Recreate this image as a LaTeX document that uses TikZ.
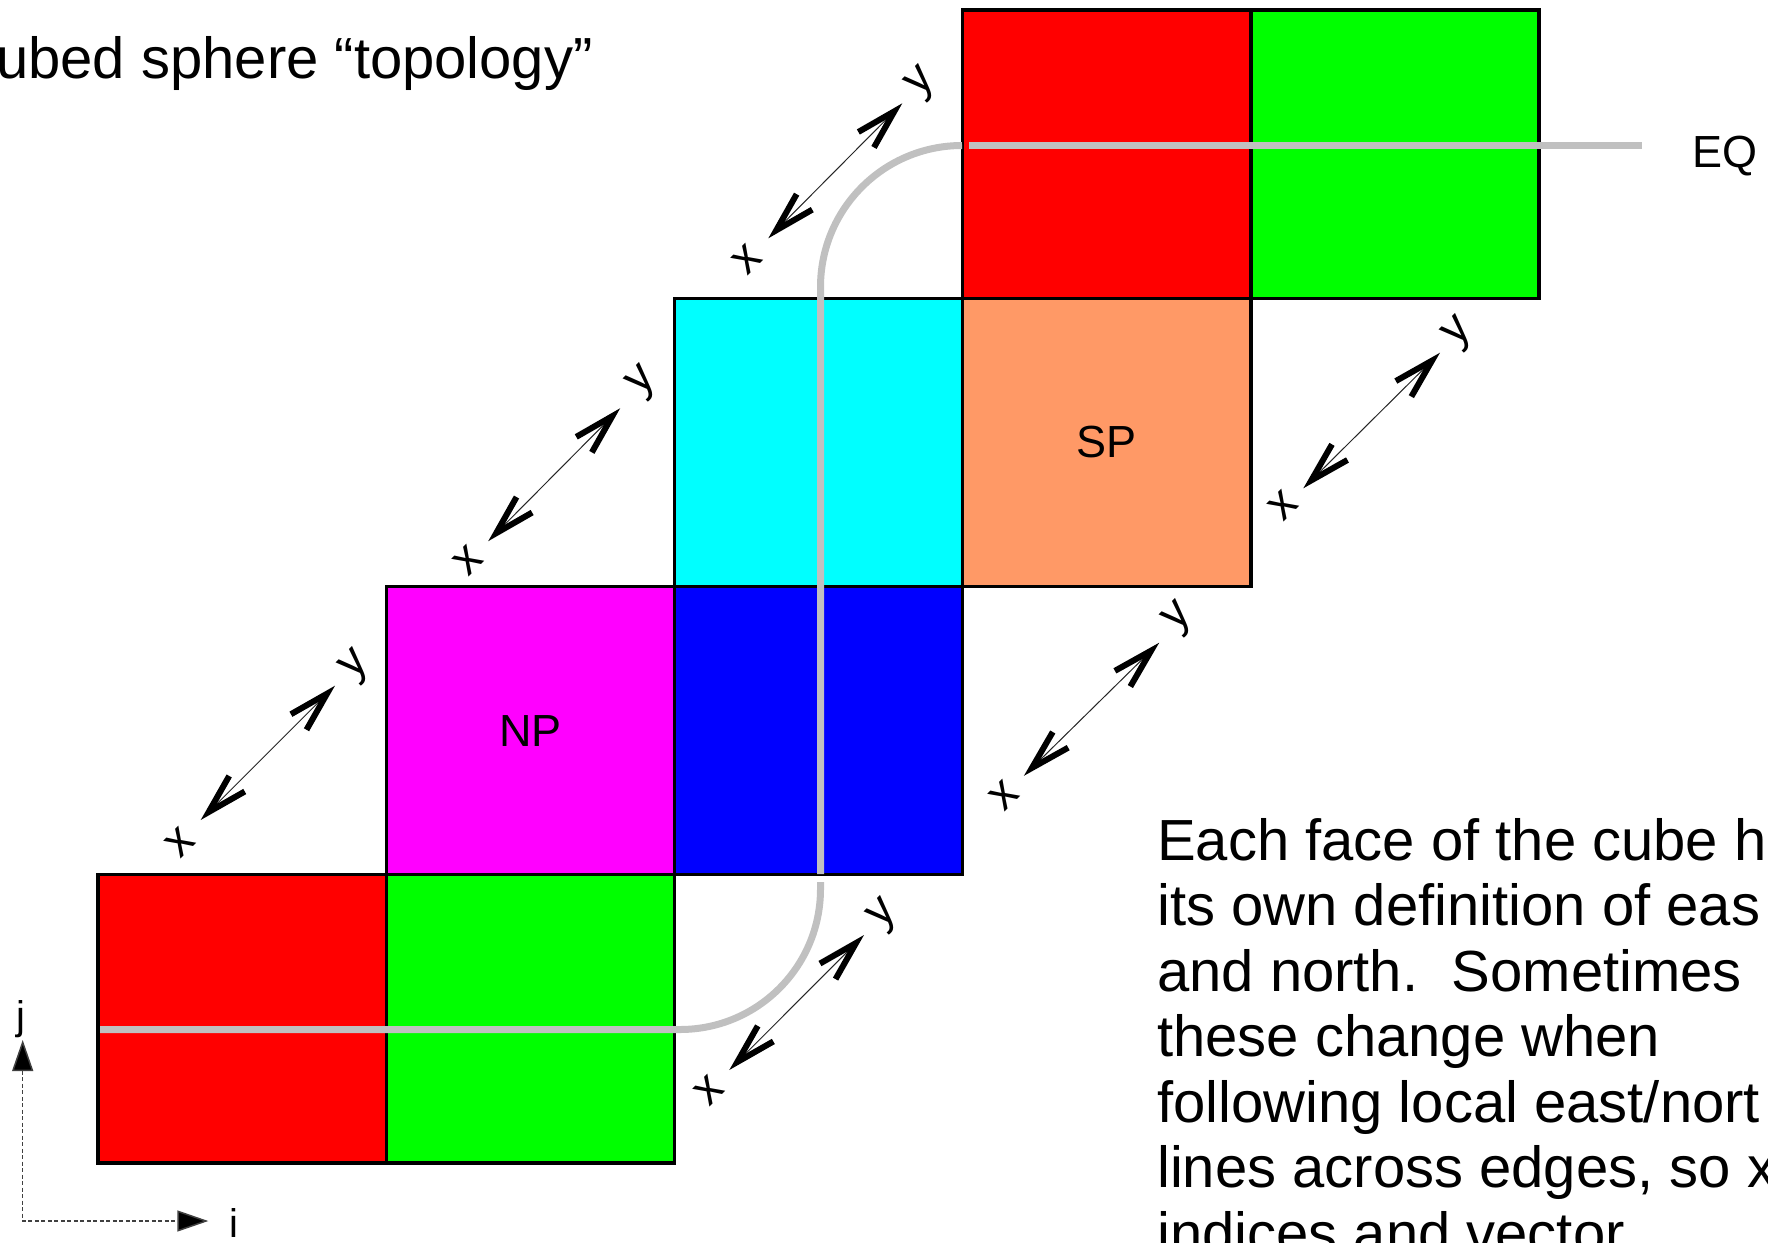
\documentclass[tikz,border=0pt]{standalone}
\usepackage{fontspec}
\setmainfont{Liberation Sans}
\usetikzlibrary{arrows.meta}
\definecolor{fred}{HTML}{FF0000}
\definecolor{fgreen}{HTML}{00FF00}
\definecolor{fcyan}{HTML}{00FFFF}
\definecolor{fmag}{HTML}{FF00FF}
\definecolor{fblue}{HTML}{0000FF}
\definecolor{fsp}{HTML}{FF9966}
\definecolor{eqgray}{HTML}{C0C0C0}
\begin{document}
\begin{tikzpicture}[x=1pt,y=-1pt,
  face/.style={draw=black, line width=3.5pt, minimum width=288.2pt, minimum height=288.2pt,
    inner sep=0pt, outer sep=0pt, font=\fontsize{45}{54}\selectfont},
  eqline/.style={draw=eqgray, line width=7pt},
  barb/.tip={Straight Barb[length=40pt,width=22pt,line width=6pt,color=black]},
  edgearrow/.style={draw=black!85, line width=1pt, {barb}-{barb}},
  axlab/.style={font=\fontsize{47}{56}\selectfont, rotate=45, inner sep=0pt},
  lab/.style={font=\fontsize{45}{54}\selectfont, inner sep=0pt},
  ijlab/.style={font=\fontsize{40}{48}\selectfont, inner sep=0pt, anchor=base},
  bodyline/.style={font=\fontsize{58}{65.5}\selectfont, inner sep=0pt, anchor=base west},
  axisline/.style={draw=black!75, line width=1.5pt, dash pattern=on 4pt off 2.5pt,
    {Triangle[length=31pt,width=21pt,fill=black]}-{Triangle[length=31pt,width=21pt,fill=black]}}
]
\useasboundingbox (0,0) rectangle (1768,1242);
\clip (0,0) rectangle (1768,1242);

% faces
\node[face, fill=fred]   (redA)   at (242.2,1018.8) {};
\node[face, fill=fgreen] (greenA) at (530.4,1018.8) {};
\node[face, fill=fmag]   (np)     at (530.4,730.6) {NP};
\node[face, fill=fblue]  (blueF)  at (818.6,730.6) {};
\node[face, fill=fcyan]  (cyanF)  at (818.6,442.4) {};
\node[face, fill=fsp]    (sp)     at (1106.8,442.4) {SP};
\node[face, fill=fred]   (redB)   at (1106.8,154.2) {};
\node[face, fill=fgreen] (greenB) at (1395,154.2) {};

% equator line
\coordinate (eqW) at (969,145.5);
\coordinate (eqE) at (1642,145.5);
\draw[eqline] (eqW) -- (eqE);
\coordinate (a1) at (962,145.5);
\coordinate (a2) at (820.5,287);
\coordinate (a3) at (820.5,874);
\draw[eqline] (a1) .. controls (883.9,145.5) and (820.5,208.8) .. (a2) -- (a3);
\coordinate (b1) at (820.5,882);
\coordinate (b2) at (820.5,889);
\coordinate (b3) at (680,1029.5);
\coordinate (b4) at (100,1029.5);
\draw[eqline] (b1) -- (b2) .. controls (820.5,966.6) and (757.6,1029.5) .. (b3) -- (b4);
\node[lab, anchor=base west] (eq) at (1692,167) {EQ};

% edge arrows
\coordinate (p1s) at (200.7,820);   \coordinate (p1e) at (335,685.7);
\coordinate (p2s) at (488.2,541.2); \coordinate (p2e) at (620.2,408.2);
\coordinate (p3s) at (768.3,238.3); \coordinate (p3e) at (902.3,103.3);
\coordinate (p4s) at (1303.3,488.3); \coordinate (p4e) at (1440,352.7);
\coordinate (p5s) at (1023.9,775.8); \coordinate (p5e) at (1159.2,642.7);
\coordinate (p6s) at (729.3,1070);  \coordinate (p6e) at (864,935);
\draw[edgearrow] (p1s) -- (p1e);
\draw[edgearrow] (p2s) -- (p2e);
\draw[edgearrow] (p3s) -- (p3e);
\draw[edgearrow] (p4s) -- (p4e);
\draw[edgearrow] (p5s) -- (p5e);
\draw[edgearrow] (p6s) -- (p6e);
\node[axlab] (x1) at (180,842) {x};      \node[axlab] (y1) at (356,667) {y};
\node[axlab] (x2) at (468,560.4) {x};    \node[axlab] (y2) at (643.7,382.4) {y};
\node[axlab] (x3) at (746.7,259.3) {x};  \node[axlab] (y3) at (922.7,84) {y};
\node[axlab] (x4) at (1283,505) {x};     \node[axlab] (y4) at (1459,334) {y};
\node[axlab] (x5) at (1003.6,795) {x};   \node[axlab] (y5) at (1179.3,619.2) {y};
\node[axlab] (x6) at (709.3,1090) {x};   \node[axlab] (y6) at (884.3,915.7) {y};

% axes
\coordinate (jtip) at (22.7,1040);
\coordinate (corner) at (22.7,1221);
\coordinate (itip) at (208.3,1221);
\draw[axisline] (jtip) -- (corner) -- (itip);
\node[ijlab] (jl) at (21,1029) {j};
\node[ijlab] (il) at (234,1237) {i};

% texts
\node[anchor=base west, inner sep=0pt, font=\fontsize{58}{66}\selectfont] (title) at (-4,78) {ubed sphere “topology”};
\node[bodyline] (t1) at (1157,860) {Each face of the cube h};
\node[bodyline] (t2) at (1157,925.5) {its own definition of eas};
\node[bodyline] (t3) at (1157,991) {and north.\kern0.3em\ Sometimes};
\node[bodyline] (t4) at (1157,1056.5) {these change when};
\node[bodyline] (t5) at (1157,1122) {following local east/nort};
\node[bodyline] (t6) at (1157,1187.5) {lines across edges, so x};
\node[bodyline] (t7) at (1157,1253) {indices and vector};
\end{tikzpicture}
\end{document}
